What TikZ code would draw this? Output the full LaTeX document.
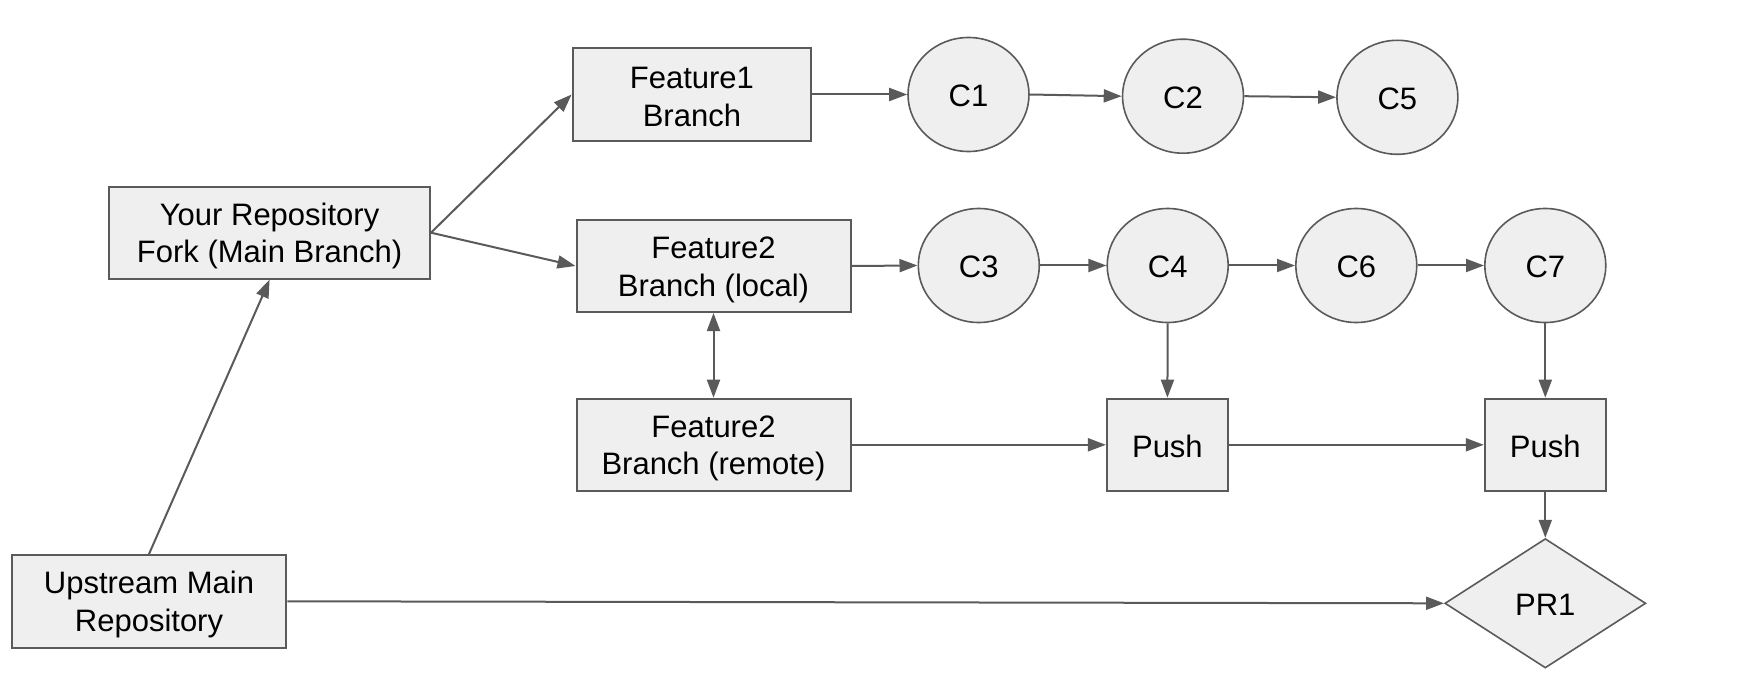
\documentclass[tikz,border=0pt]{standalone}
\usepackage{fontspec}
\setmainfont{Liberation Sans}
\usetikzlibrary{arrows.meta,shapes.geometric}
\definecolor{edge}{RGB}{90,90,90}
\definecolor{boxfill}{RGB}{239,239,239}
% struts keep the labels at a fixed height inside their shapes
\newcommand\twolines[2]{\rule{0pt}{14.5pt}#1\\#2\rule[-1.75pt]{0pt}{1.75pt}}
\newcommand\oneline[1]{\rule{0pt}{13.6pt}#1\rule[-1.4pt]{0pt}{1.4pt}}
\begin{document}
\begin{tikzpicture}[x=0.5pt,y=-0.5pt,
  every node/.style={font=\fontsize{15.5pt}{18.85pt}\selectfont, text=black, align=center},
  box/.style={draw=edge, fill=boxfill, line width=1pt, rectangle, inner sep=0pt},
  commit/.style={draw=edge, fill=boxfill, line width=0.8pt, ellipse, inner sep=0pt,
    minimum width=60.5pt, minimum height=57pt},
  pr/.style={draw=edge, fill=boxfill, line width=0.8pt, diamond, inner sep=0pt,
    minimum width=100.5pt, minimum height=64.7pt},
  link/.style={draw=edge, line width=1pt, -{Triangle[length=9pt,width=6.5pt]}},
  twoway/.style={draw=edge, line width=1pt, {Triangle[length=9pt,width=6.5pt]}-{Triangle[length=9pt,width=6.5pt]}}
]
\useasboundingbox (0,0) rectangle (1740,700);

% repositories and branches
\node[box, minimum width=160.4pt, minimum height=46pt] (yours) at (269.6,232.7) {\twolines{Your Repository}{Fork (Main Branch)}};
\node[box, minimum width=137.3pt, minimum height=46.3pt] (up) at (149,601.3) {\twolines{Upstream Main}{Repository}};
\node[box, minimum width=119.3pt, minimum height=46.2pt] (f1) at (691.9,94.5) {\twolines{Feature1}{Branch}};
\node[box, minimum width=137pt, minimum height=46pt] (f2l) at (713.5,266) {\twolines{Feature2}{Branch (local)}};
\node[box, minimum width=137pt, minimum height=46.1pt] (f2r) at (713.5,444.8) {\twolines{Feature2}{Branch (remote)}};

% commits
\node[commit] (c1) at (968.5,94.5) {\oneline{C1}};
\node[commit] (c2) at (1183,96.2) {\oneline{C2}};
\node[commit] (c5) at (1397.4,97.3) {\oneline{C5}};
\node[commit] (c3) at (978.8,265.5) {\oneline{C3}};
\node[commit] (c4) at (1167.7,265.5) {\oneline{C4}};
\node[commit] (c6) at (1356.3,265.5) {\oneline{C6}};
\node[commit] (c7) at (1545.3,265.5) {\oneline{C7}};

% pushes and pull request
\node[box, minimum width=60.5pt, minimum height=46.1pt] (p1) at (1167.4,444.8) {\oneline{Push}};
\node[box, minimum width=60.5pt, minimum height=46.1pt] (p2) at (1545.3,444.8) {\oneline{Push}};
\node[pr] (pr1) at (1545.3,603.3) {\oneline{PR1}};

% connectors
\draw[link] (up.north) -- (yours.south);
\draw[link] (yours.east) -- (f1.west);
\draw[link] (yours.east) -- (f2l.west);
\draw[link] (f1.east) -- (c1.west);
\draw[link] (c1.east) -- (c2.west);
\draw[link] (c2.east) -- (c5.west);
\draw[link] (f2l.east) -- (c3.west);
\draw[link] (c3.east) -- (c4.west);
\draw[link] (c4.east) -- (c6.west);
\draw[link] (c6.east) -- (c7.west);
\draw[twoway] (f2l.south) -- (f2r.north);
\draw[link] (c4.south) -- (p1.north);
\draw[link] (c7.south) -- (p2.north);
\draw[link] (f2r.east) -- (p1.west);
\draw[link] (p1.east) -- (p2.west);
\draw[link] (p2.south) -- (pr1.north);
\draw[link] (up.east) -- (pr1.west);
\end{tikzpicture}
\end{document}
